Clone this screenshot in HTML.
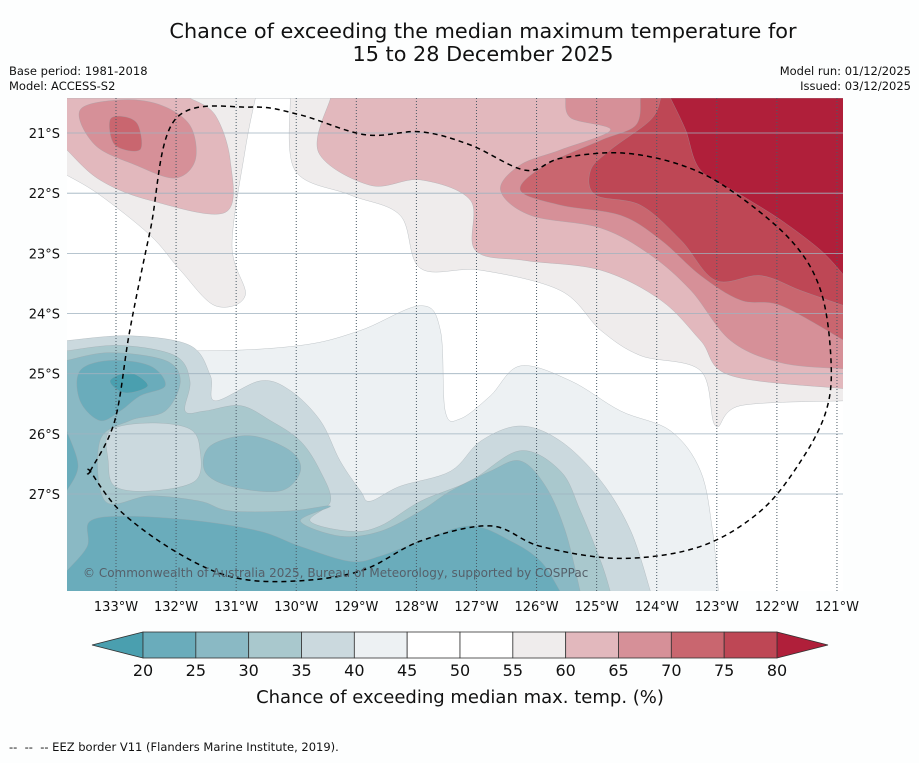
<!DOCTYPE html>
<html><head><meta charset="utf-8">
<style>
html,body{margin:0;padding:0;background:#fdfefe;}
body{width:919px;height:758px;overflow:hidden;font-family:"Liberation Sans","DejaVu Sans",sans-serif;}
svg text{font-family:"DejaVu Sans","Liberation Sans",sans-serif;}
</style></head><body>
<svg id="chart" width="919" height="758" viewBox="0 0 919 758" xmlns="http://www.w3.org/2000/svg">
<rect width="919" height="758" fill="#fdfefe"/>
<text x="483" y="38" font-size="20.8" text-anchor="middle" fill="#111">Chance of exceeding the median maximum temperature for</text>
<text x="483" y="61" font-size="20.8" text-anchor="middle" fill="#111">15 to 28 December 2025</text>
<text x="9" y="75" font-size="11.5" fill="#111">Base period: 1981-2018</text>
<text x="9" y="90" font-size="11.5" fill="#111">Model: ACCESS-S2</text>
<text x="911" y="75" font-size="11.5" fill="#111" text-anchor="end">Model run: 01/12/2025</text>
<text x="911" y="90" font-size="11.5" fill="#111" text-anchor="end">Issued: 03/12/2025</text>
<defs><clipPath id="mapclip"><rect x="67" y="98" width="776" height="493"/></clipPath></defs>
<g id="map" clip-path="url(#mapclip)"></g>
<g id="axes"></g>
<g id="cbar"></g>
<text x="460" y="703" font-size="18" text-anchor="middle" fill="#111">Chance of exceeding median max. temp. (%)</text>
<text x="9" y="751" font-size="11.5" fill="#111" xml:space="preserve">--  --  -- EEZ border V11 (Flanders Marine Institute, 2019).</text>
</svg>
<script>
// ---- data (lon in degrees West, lat in degrees South) ----
const lonTicks = [133,132,131,130,129,128,127,126,125,124,123,122,121];
const latTicks = [21,22,23,24,25,26,27];
const cbarLevels = [20,25,30,35,40,45,50,55,60,65,70,75,80];
const cbarColors = ["#6aacbb","#8ab9c4","#a9c8cd","#cbd9de","#edf1f3","#ffffff","#ffffff","#efecec","#e2b8bd","#d69098","#c9666f","#be4755"];
const layerNames = ["g55","g60a","g60b","g65a","g65b","g70a","g70b","g75","g80","b45","b40","b35","island40","b30","b30blob","b25a","b25b","b25c","b20"];
const layerColors = ["#efecec","#e2b8bd","#e2b8bd","#d69098","#d69098","#c9666f","#c9666f","#be4755","#b01f3a","#edf1f3","#cbd9de","#a9c8cd","#cbd9de","#8ab9c4","#8ab9c4","#6aacbb","#6aacbb","#6aacbb","#4a9faf"];
const layerPolys = [
[[133.82,20.42],[133.82,21.7],[133.27,22.03],[132.43,22.7],[131.93,23.28],[131.35,23.87],[130.85,23.7],[131.07,22.87],[130.85,21.28],[130.68,20.42],[130.1,20.42],[130.02,21.62],[129.1,22.03],[128.27,22.37],[127.93,23.25],[126.93,23.28],[125.6,23.62],[124.93,24.28],[124.27,24.7],[123.27,24.95],[123.02,25.87],[122.6,25.53],[120.88,25.45],[120.88,20.42]],
[[133.82,21.28],[133.27,21.78],[132.43,22.12],[131.18,22.32],[131.1,21.45],[131.35,20.7],[131.77,20.42],[133.82,20.42]],
[[129.43,20.42],[129.63,21.32],[128.77,21.87],[127.93,21.78],[127.1,22.12],[127.02,22.95],[126.18,23.12],[124.93,23.28],[123.93,23.78],[123.27,24.45],[122.77,25.03],[120.88,25.25],[120.88,20.42]],
[[133.6,20.62],[133.35,21.2],[132.68,21.53],[132.02,21.75],[131.68,21.45],[131.77,20.87],[132.27,20.53],[132.93,20.45]],
[[125.52,20.42],[125.43,20.75],[124.77,20.95],[125.6,21.28],[126.27,21.53],[126.6,21.95],[126.1,22.37],[124.93,22.58],[124.1,23.03],[123.43,23.62],[122.77,24.45],[121.93,24.82],[120.88,24.92],[120.88,20.42]],
[[133.1,20.78],[133.02,21.2],[132.6,21.28],[132.63,20.87],[132.85,20.73]],
[[124.27,20.42],[124.35,20.87],[124.93,21.12],[125.85,21.53],[126.27,21.95],[125.6,22.2],[124.6,22.37],[123.93,22.78],[123.27,23.37],[122.6,23.78],[121.93,23.87],[120.88,24.45],[120.88,20.42]],
[[123.93,20.42],[124.1,20.78],[124.77,21.28],[125.1,21.62],[125.02,22.03],[124.27,22.2],[123.6,22.78],[123.02,23.45],[122.27,23.37],[121.6,23.62],[120.88,23.87],[120.88,20.42]],
[[123.77,20.42],[123.52,20.95],[123.27,21.62],[122.6,22.03],[121.93,22.45],[121.27,22.95],[120.88,23.37],[120.88,20.42]],
[[133.82,24.53],[131.6,24.62],[129.93,24.53],[128.93,24.28],[127.93,23.87],[127.6,24.28],[127.52,25.62],[127.27,25.75],[126.77,25.37],[126.27,24.87],[125.43,25.12],[124.6,25.62],[123.77,25.95],[123.27,26.62],[123.07,27.62],[122.97,28.63],[133.82,28.63]],
[[133.82,24.45],[132.77,24.37],[131.77,24.53],[131.43,25.03],[131.35,25.45],[130.6,25.12],[130.1,25.28],[129.6,25.78],[129.27,26.45],[128.93,26.95],[128.77,27.12],[128.27,26.87],[127.43,26.62],[126.93,26.12],[126.27,25.87],[125.6,26.12],[124.93,26.78],[124.43,27.62],[124.1,28.63],[133.82,28.63]],
[[133.82,24.62],[132.93,24.53],[132.02,24.7],[131.77,25.12],[131.85,25.62],[131.52,25.62],[130.93,25.53],[130.43,25.78],[129.93,26.12],[129.6,26.62],[129.43,27.12],[129.77,27.45],[129.1,27.62],[128.6,27.53],[127.93,27.12],[127.1,26.78],[126.27,26.28],[125.6,26.62],[125.27,27.28],[124.93,28.12],[124.77,28.63],[133.82,28.63]],
[[133.1,25.95],[132.43,25.82],[131.77,25.92],[131.6,26.28],[131.68,26.78],[132.43,26.95],[133.02,26.87],[133.13,26.45]],
[[133.82,24.78],[133.1,24.65],[132.18,24.78],[131.93,25.12],[132.18,25.62],[132.77,25.78],[133.27,26.12],[133.18,27.12],[132.43,27.03],[131.6,27.12],[131.1,27.28],[130.1,27.28],[129.43,27.2],[129.93,27.45],[129.27,27.7],[128.6,27.62],[127.93,27.28],[127.43,26.95],[126.77,26.62],[126.27,26.45],[125.85,26.87],[125.52,27.62],[125.27,28.63],[133.82,28.63]],
[[131.43,26.2],[130.77,26.03],[130.1,26.28],[129.93,26.62],[130.27,26.95],[131.1,26.87],[131.52,26.62]],
[[133.6,24.95],[133.1,24.78],[132.43,24.87],[132.18,25.2],[132.6,25.37],[132.93,25.62],[133.27,25.78],[133.6,25.45]],
[[133.82,28.28],[133.48,27.87],[133.43,27.45],[132.77,27.37],[131.6,27.45],[130.6,27.62],[129.93,27.87],[129.1,28.12],[128.6,28.03],[127.93,27.78],[127.1,27.53],[126.43,27.78],[125.93,28.12],[125.6,28.63],[133.82,28.63]],
[[133.82,25.95],[133.63,26.53],[133.82,26.95]],
[[133.1,25.12],[132.77,24.98],[132.47,25.2],[132.85,25.32]]
];
const eezLon = [133.43,133.02,132.77,132.43,132.02,130.77,129.93,128.85,127.93,127.1,126.18,125.6,124.6,123.6,122.77,121.77,121.27,121.1,121.18,121.6,122.27,123.27,124.6,125.93,126.77,127.93,128.93,130.1,131.1,132.02,132.93,133.43];
const eezLat = [26.62,25.78,24.28,22.62,20.78,20.57,20.7,21.03,20.98,21.2,21.62,21.42,21.33,21.53,21.95,22.78,23.62,24.78,25.62,26.45,27.28,27.87,28.07,27.87,27.53,27.78,28.28,28.45,28.37,27.95,27.28,26.62];

// ---- scales ----
const xS = lon => 116 + (133 - lon) * 60.08;
const yS = lat => 133 + (lat - 21) * 60.17;
const cbX0 = 143, cbX1 = 777;
const cS = v => cbX0 + (v - 20) / 60 * (cbX1 - cbX0);
const NS = "http://www.w3.org/2000/svg";
function mk(tag, parent){ const e = document.createElementNS(NS, tag); parent.appendChild(e); return e; }
function onEdge(q){ return q[0] >= 133.8 || q[0] <= 120.9 || q[1] <= 20.43 || q[1] >= 28.6; }

function smoothPath(data, closed, useEdges){
  const pts = data.map(q => [xS(q[0]), yS(q[1])]);
  const n = pts.length; let d = "M" + pts[0][0].toFixed(1) + "," + pts[0][1].toFixed(1);
  const last = closed ? n : n - 1;
  for (let i = 0; i < last; i++){
    const j = (i + 1) % n;
    const ei = useEdges && onEdge(data[i]), ej = useEdges && onEdge(data[j]);
    if (ei && ej) { d += "L" + pts[j][0].toFixed(1) + "," + pts[j][1].toFixed(1); continue; }
    const p1 = pts[i], p2 = pts[j];
    const p0 = ei ? p1 : pts[(i - 1 + n) % n];
    const p3 = ej ? p2 : pts[(i + 2) % n];
    const c1 = [p1[0] + (p2[0] - p0[0]) / 6, p1[1] + (p2[1] - p0[1]) / 6];
    const c2 = [p2[0] - (p3[0] - p1[0]) / 6, p2[1] - (p3[1] - p1[1]) / 6];
    d += "C" + c1[0].toFixed(1) + "," + c1[1].toFixed(1) + " " + c2[0].toFixed(1) + "," + c2[1].toFixed(1) + " " + p2[0].toFixed(1) + "," + p2[1].toFixed(1);
  }
  return d + (closed ? "Z" : "");
}

const map = document.getElementById('map');
const bg = mk('rect', map);
bg.setAttribute('x', 67); bg.setAttribute('y', 98); bg.setAttribute('width', 776); bg.setAttribute('height', 493); bg.setAttribute('fill', '#ffffff');


layerPolys.forEach((poly, i) => {
  const p = mk('path', map);
  p.setAttribute('d', smoothPath(poly, true, true));
  p.setAttribute('fill', layerColors[i]);
  p.setAttribute('stroke', '#9aa3a8'); p.setAttribute('stroke-width', '0.3');
  
  
});
latTicks.forEach(t => {
  const l = mk('line', map);
  l.setAttribute('x1', 67); l.setAttribute('x2', 843); l.setAttribute('y1', yS(t)); l.setAttribute('y2', yS(t));
  l.setAttribute('stroke', '#9fb2bf'); l.setAttribute('stroke-width', '0.8');
  
  
});
lonTicks.forEach(t => {
  const l = mk('line', map);
  l.setAttribute('x1', xS(t)); l.setAttribute('x2', xS(t)); l.setAttribute('y1', 98); l.setAttribute('y2', 591);
  l.setAttribute('stroke', '#4a5a66'); l.setAttribute('stroke-width', '1'); l.setAttribute('stroke-dasharray', '1,2');
  
  
});
const eez = mk('path', map);
eez.setAttribute('d', smoothPath(eezLon.map((lo, i) => [lo, eezLat[i]]), true, false));
eez.setAttribute('fill', 'none'); eez.setAttribute('stroke', '#000'); eez.setAttribute('stroke-width', '1.5'); eez.setAttribute('stroke-dasharray', '5,4');


const cp = mk('text', map);
cp.textContent = '© Commonwealth of Australia 2025, Bureau of Meteorology, supported by COSPPac';
cp.setAttribute('x', 83); cp.setAttribute('y', 577); cp.setAttribute('font-size', '12'); cp.setAttribute('fill', '#55606a');



const axes = document.getElementById('axes');
lonTicks.forEach(t => {
  const e = mk('text', axes);
  e.textContent = t + '°W';
  e.setAttribute('x', xS(t)); e.setAttribute('y', 611); e.setAttribute('font-size', '13'); e.setAttribute('text-anchor', 'middle'); e.setAttribute('fill', '#111');
  
  
});
latTicks.forEach(t => {
  const e = mk('text', axes);
  e.textContent = t + '°S';
  e.setAttribute('x', 60); e.setAttribute('y', yS(t) + 5); e.setAttribute('font-size', '13'); e.setAttribute('text-anchor', 'end'); e.setAttribute('fill', '#111');
  
  
});

const cb = document.getElementById('cbar');
const cy0 = 632, cy1 = 658, cym = 645;
const la = mk('polygon', cb);
la.setAttribute('points', `92,${cym} ${cbX0},${cy0} ${cbX0},${cy1}`);
la.setAttribute('fill', '#4a9faf'); la.setAttribute('stroke', '#333'); la.setAttribute('stroke-width', '0.8');


const ra = mk('polygon', cb);
ra.setAttribute('points', `${cbX1},${cy0} 828,${cym} ${cbX1},${cy1}`);
ra.setAttribute('fill', '#b01f3a'); ra.setAttribute('stroke', '#333'); ra.setAttribute('stroke-width', '0.8');


cbarColors.forEach((c, i) => {
  const r = mk('rect', cb);
  r.setAttribute('x', cS(cbarLevels[i])); r.setAttribute('y', cy0);
  r.setAttribute('width', cS(cbarLevels[i + 1]) - cS(cbarLevels[i])); r.setAttribute('height', cy1 - cy0);
  r.setAttribute('fill', c); r.setAttribute('stroke', '#333'); r.setAttribute('stroke-width', '0.8');
  
  
});
cbarLevels.forEach(v => {
  const e = mk('text', cb);
  e.textContent = v;
  e.setAttribute('x', cS(v)); e.setAttribute('y', 676); e.setAttribute('font-size', '16'); e.setAttribute('text-anchor', 'middle'); e.setAttribute('fill', '#111');
  
  
});
</script>
</body></html>
